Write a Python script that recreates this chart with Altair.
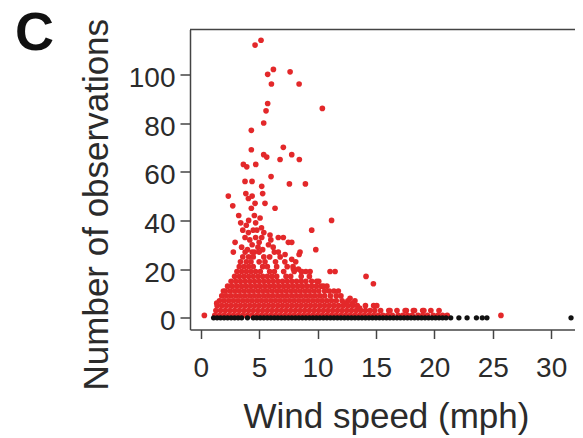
import altair as alt
import pandas as pd

# ---- data ----
panel_label = "C"
x_title = "Wind speed (mph)"
y_title = "Number of observations"
x_ticks = [0, 5, 10, 15, 20, 25, 30]
y_ticks = [0, 20, 40, 60, 80, 100]

# dense red cloud, written row by row (y level -> wind speeds)
red_rows_y = [1, 3, 5, 7, 9, 11, 13, 15, 17, 19, 21, 23, 25, 27]
red_rows_x = [
    [1.2, 1.6, 2.0, 2.4, 2.8, 3.2, 3.6, 4.0, 4.4, 4.8, 5.2, 5.6, 6.0, 6.4, 6.8, 7.2, 7.6, 8.0, 8.4, 8.8,
     9.2, 9.6, 10.0, 10.4, 10.8, 11.2, 11.6, 12.0, 12.4, 12.8, 13.2, 13.6, 14.0, 14.4, 14.8, 15.2, 15.6,
     16.0, 16.4, 16.9, 17.3, 17.7, 18.1, 18.6, 19.0, 19.4, 19.9, 20.3, 20.7, 21.1],
    [1.3, 1.7, 2.1, 2.5, 2.9, 3.3, 3.7, 4.1, 4.5, 4.9, 5.3, 5.7, 6.1, 6.5, 6.9, 7.3, 7.7, 8.1, 8.5, 8.9,
     9.3, 9.7, 10.1, 10.5, 10.9, 11.3, 11.7, 12.1, 12.5, 12.9, 13.3, 13.7, 14.1, 14.5, 14.9, 15.4, 16.1,
     16.8, 17.6, 18.2, 19.0, 19.7, 20.4],
    [1.4, 1.8, 2.2, 2.6, 3.0, 3.4, 3.8, 4.2, 4.6, 5.0, 5.4, 5.8, 6.2, 6.6, 7.0, 7.4, 7.8, 8.2, 8.6, 9.0,
     9.4, 9.8, 10.2, 10.6, 11.0, 11.4, 11.8, 12.2, 12.6, 13.0, 13.4, 14.1, 14.8],
    [1.6, 2.0, 2.4, 2.8, 3.2, 3.6, 4.0, 4.4, 4.8, 5.2, 5.6, 6.0, 6.4, 6.8, 7.2, 7.6, 8.0, 8.4, 8.8, 9.2,
     9.6, 10.0, 10.4, 10.8, 11.2, 11.6, 12.1, 12.6, 13.2],
    [1.8, 2.2, 2.6, 3.0, 3.4, 3.8, 4.2, 4.6, 5.0, 5.4, 5.8, 6.2, 6.6, 7.0, 7.4, 7.8, 8.2, 8.6, 9.0, 9.4,
     9.8, 10.2, 10.6, 11.1, 11.6, 12.0],
    [2.1, 2.5, 2.9, 3.3, 3.7, 4.1, 4.5, 4.9, 5.3, 5.7, 6.1, 6.5, 6.9, 7.3, 7.7, 8.1, 8.5, 8.9, 9.3, 9.7,
     10.1, 10.6, 11.0, 11.4],
    [2.3, 2.7, 3.1, 3.5, 3.9, 4.3, 4.7, 5.1, 5.5, 5.9, 6.3, 6.7, 7.1, 7.5, 7.9, 8.3, 8.7, 9.1, 9.5, 9.9,
     10.3, 10.8],
    [2.6, 3.0, 3.4, 3.8, 4.2, 4.6, 5.0, 5.4, 5.8, 6.2, 6.6, 7.0, 7.4, 7.8, 8.2, 8.6, 9.0, 9.5, 10.1],
    [2.9, 3.3, 3.7, 4.1, 4.5, 4.9, 5.3, 5.7, 6.1, 6.5, 7.3, 7.7, 8.6, 9.3],
    [3.1, 3.5, 3.9, 4.3, 4.7, 5.1, 5.9, 6.3, 7.1, 8.0, 8.6, 9.0],
    [3.3, 3.7, 4.1, 4.5, 5.3, 5.7, 6.5, 7.4, 7.9],
    [3.4, 3.9, 4.3, 5.0, 5.5, 6.4, 7.2],
    [3.6, 4.1, 4.5, 5.4, 5.9, 6.8],
    [3.8, 4.4, 5.0, 6.3],
]

# scattered red points
red_pts_x = [4.65, 5.16, 6.22, 5.73, 7.65, 6.05, 8.42, 5.73, 5.59, 10.41, 5.39, 4.33, 4.33, 7.07, 5.39,
             5.65, 7.79, 6.79, 8.44, 3.65, 3.94, 4.71, 6.02, 3.79, 4.39, 7.59, 8.96, 5.22, 2.36, 3.86,
             4.08, 4.4, 2.74, 4.65, 5.3, 5.5, 4.33, 6.36, 3.25, 4.59, 5.08, 11.2, 3.42, 4.1, 3.6, 4.08,
             4.8, 9.5, 2.94, 3.79, 5.22, 5.93, 6.64, 7.07, 7.5, 7.79, 2.79, 9.85, 6.64, 7.22, 7.79, 8.5,
             8.42, 8.13, 7.93, 8.36, 8.65, 9.36, 9.93, 11.07, 11.5, 10.5, 11.78, 14.15, 14.78, 12.78,
             15.07, 1.94, 1.37, 0.31, 25.7, 4.0, 4.4, 4.9, 5.3, 4.2, 4.7, 5.0, 4.5, 5.2, 3.9, 4.7, 5.4,
             5.8, 6.2, 6.0, 3.5, 4.6, 12.3, 13.0, 13.6, 16.2, 17.5, 18.3, 19.1]
red_pts_y = [112, 114, 102, 100, 101, 96, 96, 88, 85, 86, 80, 77, 69, 70, 67,
             66, 67, 65, 65, 63, 62, 63, 58, 56, 56, 55, 55, 54, 50, 51,
             49, 50, 46, 47, 51, 47, 45, 45, 42, 42, 41, 40, 39, 40, 36, 35,
             36, 36, 31, 33, 33, 34, 33, 33, 31, 31, 27, 28, 27, 26, 24, 27,
             26, 23, 20, 20, 19, 19, 15, 19, 19, 13, 11, 17, 14, 8,
             5, 11, 6, 1, 1, 28, 30, 29, 28, 32, 33, 31, 36, 37, 38, 39, 35,
             30, 29, 32, 29, 27, 6, 6, 4, 3, 3, 3, 3]

# zero-count observations (black)
black_x = [1.1, 1.4, 1.7, 2.0, 2.3, 2.6, 2.9, 3.2, 3.5, 4.0, 4.5, 4.8, 5.1, 5.4, 5.7, 6.0, 6.3, 6.6, 6.9,
           7.2, 7.5, 7.8, 8.1, 8.4, 8.7, 9.0, 9.3, 9.6, 9.9, 10.2, 10.5, 10.8, 11.1, 11.4, 11.7, 12.0,
           12.3, 12.6, 12.9, 13.2, 13.5, 13.8, 14.1, 14.4, 14.7, 15.0, 15.3, 15.6, 15.9, 16.2, 16.5,
           16.8, 17.1, 17.4, 17.7, 18.0, 18.3, 18.6, 18.9, 19.2, 19.5, 19.8, 20.1, 20.4, 20.7, 21.0,
           21.4, 22.1, 22.8, 23.6, 24.1, 24.5, 31.7]
black_y = [0] * len(black_x)

# ---- tables ----
rx, ry = [], []
for yv, xs in zip(red_rows_y, red_rows_x):
    rx.extend(xs)
    ry.extend([yv] * len(xs))
rx.extend(red_pts_x)
ry.extend(red_pts_y)
red_df = pd.DataFrame({"wind": rx, "obs": ry})
black_df = pd.DataFrame({"wind": black_x, "obs": black_y})

W, H = 385, 300
FONT = "Liberation Sans"
TXT = "#2b2b2b"
LINE = "#444444"

xscale = alt.Scale(domain=[-0.92, 32.04], nice=False, zero=False)
yscale = alt.Scale(domain=[-4.8, 118.4], nice=False, zero=False)

xaxis = alt.Axis(values=x_ticks, grid=False, tickSize=9, tickWidth=1.5, tickColor=LINE,
                 domainColor=LINE, domainWidth=1.5, labelFont=FONT, labelFontSize=28,
                 labelColor=TXT, labelPadding=16, labelFlush=False, title=x_title,
                 titleFont=FONT, titleFontSize=35, titleFontWeight="normal", titleColor=TXT,
                 titleAlign="left", titleAnchor="start", titleBaseline="alphabetic",
                 titleX=53, titleY=97.5)
yaxis = alt.Axis(values=y_ticks, grid=False, tickSize=10, tickWidth=1.5, tickColor=LINE,
                 domainColor=LINE, domainWidth=1.5, labelFont=FONT, labelFontSize=28,
                 labelColor=TXT, labelPadding=5, labelOffset=4, labelFlush=False, title=y_title,
                 titleFont=FONT, titleFontSize=35, titleFontWeight="normal", titleColor=TXT,
                 titleAngle=270, titleAlign="center", titleBaseline="alphabetic",
                 titleX=-83, titleY=174.7)

red = alt.Chart(red_df).mark_circle(size=32, opacity=1, color="#e3282a").encode(
    x=alt.X("wind:Q", scale=xscale, axis=xaxis),
    y=alt.Y("obs:Q", scale=yscale, axis=yaxis),
)
black = alt.Chart(black_df).mark_circle(size=28, opacity=1, color="#111111").encode(
    x=alt.X("wind:Q", scale=xscale),
    y=alt.Y("obs:Q", scale=yscale),
)
top_border = alt.Chart(pd.DataFrame({"k": [0]})).mark_rule(color=LINE, strokeWidth=1.5).encode(
    x=alt.value(0), x2=alt.value(W), y=alt.value(0)
)
label = alt.Chart(pd.DataFrame({"t": [panel_label]})).mark_text(
    font=FONT, fontSize=54, fontWeight="bold", color="#111111", align="left", baseline="alphabetic"
).encode(text="t:N", x=alt.value(-175), y=alt.value(20.5))

chart = alt.layer(red, black, top_border, label).properties(
    width=W, height=H,
    autosize=alt.AutoSizeParams(type="none"),
    padding={"left": 182, "top": 21.5, "right": 0, "bottom": 108},
).configure_view(stroke=None)

chart.save("out.html", embed_options={"renderer": "svg", "actions": False})
